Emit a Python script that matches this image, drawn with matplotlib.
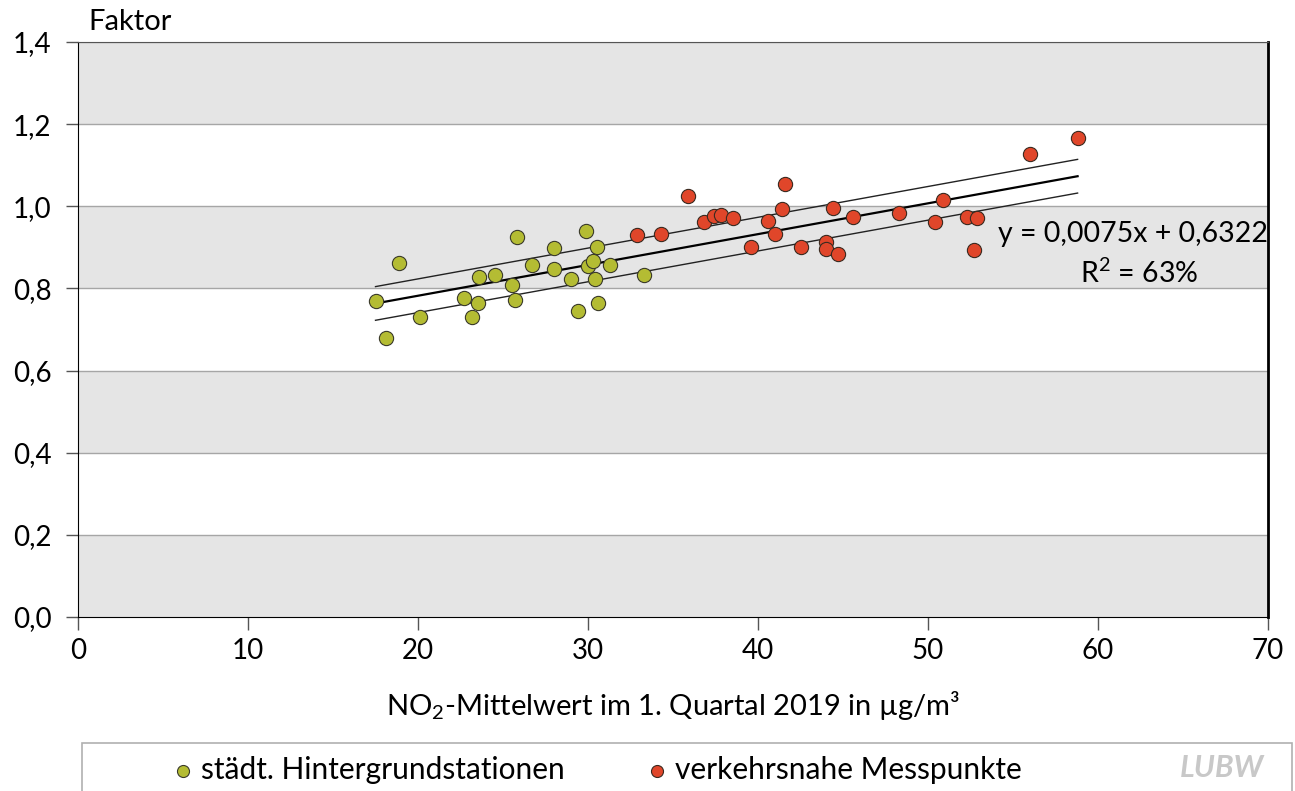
import numpy as np
import matplotlib
matplotlib.use("Agg")
import matplotlib.pyplot as plt
from matplotlib.patches import Rectangle

plt.rcParams['font.family'] = ['Lato', 'DejaVu Sans']
plt.rcParams['mathtext.fontset'] = 'custom'
plt.rcParams['mathtext.rm'] = 'Lato'
plt.rcParams['mathtext.it'] = 'Lato:italic'

# städt. Hintergrundstationen (NO2 mean, factor)
bg_x = [17.5, 18.9, 18.1, 20.1, 22.7, 23.2, 23.5, 23.6, 24.5, 25.5, 25.7, 25.8, 26.7,
        28.0, 28.0, 29.0, 29.4, 29.9, 30.0, 30.3, 30.4, 30.5, 30.6, 31.3, 33.3]
bg_y = [0.770, 0.861, 0.680, 0.731, 0.777, 0.731, 0.765, 0.829, 0.832, 0.808, 0.773, 0.925, 0.857,
        0.899, 0.847, 0.824, 0.744, 0.940, 0.855, 0.867, 0.824, 0.901, 0.765, 0.858, 0.832]

# verkehrsnahe Messpunkte
tr_x = [32.9, 34.3, 35.9, 36.8, 37.4, 37.8, 38.5, 39.6, 40.6, 41.0, 41.4, 41.6, 42.5,
        44.0, 44.0, 44.7, 44.4, 45.6, 48.3, 50.4, 50.9, 52.3, 52.9, 52.7, 56.0, 58.8]
tr_y = [0.931, 0.933, 1.025, 0.961, 0.976, 0.980, 0.971, 0.902, 0.964, 0.933, 0.993, 1.054, 0.902,
        0.912, 0.897, 0.884, 0.995, 0.975, 0.984, 0.962, 1.016, 0.974, 0.972, 0.894, 1.127, 1.166]

slope = 0.0075
intercept = 0.6322
band = 0.041
r2_text = "R$^2$ = 63%"

yticks = [0.0, 0.2, 0.4, 0.6, 0.8, 1.0, 1.2, 1.4]
xticks = [0, 10, 20, 30, 40, 50, 60, 70]

green = '#b4bc33'
red = '#e0462a'

fig = plt.figure(figsize=(12.95, 7.91), dpi=100)
ax = fig.add_axes([78 / 1295, 1 - 617 / 791, 1190 / 1295, 575 / 791])

# alternating background bands
for i in range(0, len(yticks) - 1, 2):
    ax.axhspan(yticks[i], yticks[i + 1], color='#e5e5e5', zorder=0, lw=0)
for t in yticks[1:]:
    ax.axhline(t, color='#a6a6a6', lw=1.0, zorder=1)

all_x = np.array(bg_x + tr_x)
xs = np.linspace(all_x.min(), all_x.max(), 50)
fit = slope * xs + intercept
ax.plot(xs, fit, color='black', lw=1.6, zorder=3)
ax.plot(xs, fit + band, color='#222222', lw=1.0, zorder=3)
ax.plot(xs, fit - band, color='#222222', lw=1.0, zorder=3)

ax.scatter(bg_x, bg_y, s=105, color=green, edgecolor='#3a3a2a', linewidth=0.8, zorder=4)
ax.scatter(tr_x, tr_y, s=105, color=red, edgecolor='#3a2a20', linewidth=0.8, zorder=4)

ax.text(70, 0.933, "y = 0,0075x + 0,6322", ha='right', va='center', fontsize=20.5)
ax.text(62.4, 0.836, r2_text, ha='center', va='center', fontsize=20.5)

ax.set_xlim(0, 70)
ax.set_ylim(0, 1.4)
ax.set_xticks(xticks)
ax.set_xticklabels([str(t) for t in xticks])
ax.set_yticks(yticks)
ax.set_yticklabels([f"{t:.1f}".replace('.', ',') for t in yticks])
ax.tick_params(axis='both', labelsize=20, length=9, width=1.0, color='#555555')
ax.tick_params(axis='y', pad=10)
ax.tick_params(axis='x', pad=6)

ax.spines['left'].set_color('black')
ax.spines['bottom'].set_color('black')
ax.spines['right'].set_color('black')
ax.spines['right'].set_linewidth(2.0)
ax.spines['top'].set_color('#555555')

ax.set_xlabel("NO$_2$-Mittelwert im 1. Quartal 2019 in µg/m³", fontsize=21, labelpad=18)
fig.text(88 / 1295, 1 - 22 / 791, "Faktor", fontsize=21, ha='left', va='center')

# legend box at bottom
fig.patches.append(Rectangle((82 / 1295, -0.02), 1210 / 1295, 0.02 + 48 / 791,
                             transform=fig.transFigure, fill=False,
                             edgecolor='#b0b0b0', lw=1.2))
h1 = ax.scatter([], [], s=75, color=green, edgecolor='#3a3a2a', linewidth=0.8)
h2 = ax.scatter([], [], s=75, color=red, edgecolor='#3a2a20', linewidth=0.8)
fig.legend([h1, h2], ["städt. Hintergrundstationen", "verkehrsnahe Messpunkte"],
           loc='center left', bbox_to_anchor=(141 / 1295, 1 - 770 / 791), ncol=2,
           frameon=False, fontsize=21.5, handletextpad=0.1, columnspacing=2.6,
           handlelength=1.0)
fig.text(1222 / 1295, 1 - 768 / 791, "LUBW", fontsize=22, color='#c8c8c8',
         fontweight='bold', style='italic', ha='center', va='center')

fig.savefig("out.png", dpi=100)
